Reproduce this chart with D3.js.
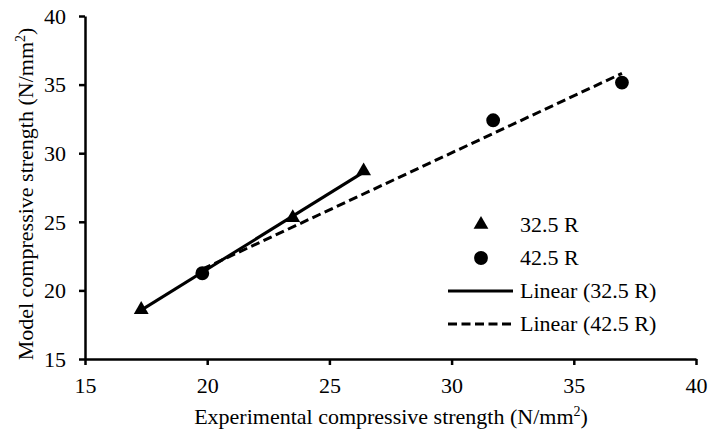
<!DOCTYPE html>
<html>
<head>
<meta charset="utf-8">
<script src="https://cdn.jsdelivr.net/npm/d3@7"></script>
<style>
  body { margin: 0; background: #fff; }
</style>
</head>
<body>
<div id="chart"></div>
<script>
var width = 708, height = 432;
var serif = "'Liberation Serif', 'Times New Roman', serif";

// data
var expR325 = [17.3, 23.5, 26.4];
var modR325 = [18.6, 25.3, 28.7];
var expR425 = [19.8, 31.7, 36.97];
var modR425 = [21.25, 32.4, 35.15];
var xTicks = [15, 20, 25, 30, 35, 40];
var yTicks = [15, 20, 25, 30, 35, 40];
var legendLabels = ["32.5 R", "42.5 R", "Linear (32.5 R)", "Linear (42.5 R)"];

var x = d3.scaleLinear().domain([15, 40]).range([85, 696]);
var y = d3.scaleLinear().domain([15, 40]).range([359, 16]);

var svg = d3.select("#chart").append("svg")
  .attr("width", width)
  .attr("height", height);

// least squares fit, drawn from min to max x like the excel trendline
var fit = function(xs, ys) {
  var mx = d3.mean(xs), my = d3.mean(ys);
  var sxy = 0, sxx = 0;
  for (var i = 0; i < xs.length; i++) {
    sxy += (xs[i]-mx)*(ys[i]-my);
    sxx += (xs[i]-mx)*(xs[i]-mx);
  }
  var b = sxy/sxx, a = my - b*mx;
  var x0 = d3.min(xs), x1 = d3.max(xs);
  return [[x0, a+b*x0], [x1, a+b*x1]];
};

var line = d3.line()
  .x(function(d){ return x(d[0]); })
  .y(function(d){ return y(d[1]); });

// axes
var xAxis = svg.append("g")
  .attr("transform", "translate(0," + y(15) + ")")
  .call(d3.axisBottom(x).tickValues(xTicks).tickSize(6).tickSizeOuter(0));
var yAxis = svg.append("g")
  .attr("transform", "translate(" + x(15) + ",0)")
  .call(d3.axisLeft(y).tickValues(yTicks).tickSize(6).tickSizeOuter(0));

[xAxis, yAxis].forEach(function(g){
  g.select(".domain").attr("stroke", "#000").attr("stroke-width", 2.5);
  g.selectAll(".tick line").attr("stroke", "#000").attr("stroke-width", 2.5);
  g.selectAll(".tick text")
    .style("font-family", serif)
    .style("font-size", "22px")
    .attr("fill", "#000");
});
xAxis.selectAll(".tick text").attr("y", 34).attr("dy", 0);
yAxis.selectAll(".tick text").attr("x", -19).attr("dy", "0.33em");

// trendlines
svg.append("path")
  .datum(fit(expR325, modR325))
  .attr("d", line)
  .attr("fill", "none")
  .attr("stroke", "#000")
  .attr("stroke-width", 3);

svg.append("path")
  .datum(fit(expR425, modR425))
  .attr("d", line)
  .attr("fill", "none")
  .attr("stroke", "#000")
  .attr("stroke-width", 3)
  .attr("stroke-dasharray", "9,4.5");

// markers
var tri = d3.symbol().type(d3.symbolTriangle).size(95);
var circ = d3.symbol().type(d3.symbolCircle).size(150);

svg.selectAll(".tri")
  .data(d3.zip(expR325, modR325))
  .enter()
  .append("path")
  .attr("class", "tri")
  .attr("d", tri)
  .attr("transform", function(d){ return "translate(" + x(d[0]) + "," + y(d[1]) + ")"; })
  .attr("fill", "#000");

svg.selectAll(".dot")
  .data(d3.zip(expR425, modR425))
  .enter()
  .append("path")
  .attr("class", "dot")
  .attr("d", circ)
  .attr("transform", function(d){ return "translate(" + x(d[0]) + "," + y(d[1]) + ")"; })
  .attr("fill", "#000");

// legend
var legend = svg.append("g");
var rowY = [224.5, 258, 291, 324];
legendLabels.forEach(function(lab, i){
  var g = legend.append("g").attr("transform", "translate(0," + rowY[i] + ")");
  if (i == 0) g.append("path").attr("d", tri).attr("transform", "translate(481,0)").attr("fill", "#000");
  if (i == 1) g.append("path").attr("d", circ).attr("transform", "translate(481,0)").attr("fill", "#000");
  if (i >= 2) {
    g.append("line")
      .attr("x1", 448).attr("x2", 513)
      .attr("y1", 0).attr("y2", 0)
      .attr("stroke", "#000").attr("stroke-width", 3)
      .attr("stroke-dasharray", i == 3 ? "9,4.5" : null);
  }
  g.append("text")
    .attr("x", 520)
    .attr("dy", "0.33em")
    .style("font-family", serif)
    .style("font-size", "22px")
    .text(lab);
});

// axis titles
var xt = svg.append("text")
  .attr("x", 391)
  .attr("y", 424)
  .attr("text-anchor", "middle")
  .style("font-family", serif)
  .style("font-size", "22px");
xt.append("tspan").text("Experimental compressive strength (N/mm");
xt.append("tspan").style("font-size", "14px").attr("dy", "-8").text("2");
xt.append("tspan").attr("dy", "8").text(")");

var yt = svg.append("text")
  .attr("transform", "translate(33,194) rotate(-90)")
  .attr("text-anchor", "middle")
  .style("font-family", serif)
  .style("font-size", "22px");
yt.append("tspan").text("Model compressive strength (N/mm");
yt.append("tspan").style("font-size", "14px").attr("dy", "-8").text("2");
yt.append("tspan").attr("dy", "8").text(")");
</script>
</body>
</html>
